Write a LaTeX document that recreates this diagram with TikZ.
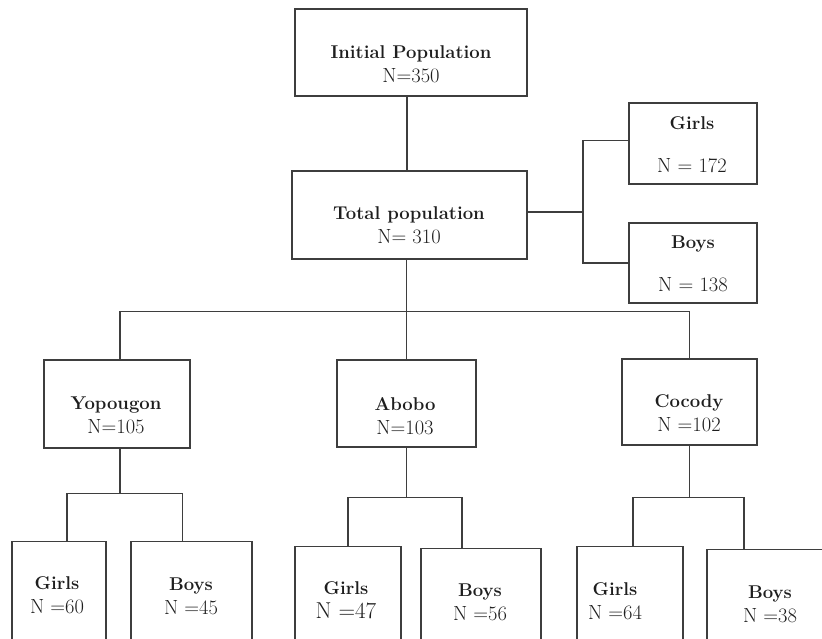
\documentclass[tikz,border=0pt]{standalone}
\usepackage{fontspec}
\usetikzlibrary{positioning,calc}
\definecolor{Ink}{RGB}{62,62,62}
\definecolor{Type}{RGB}{30,30,30}
\newcommand\hd[1]{{\fontsize{18.5}{24}\selectfont\bfseries #1}}

\begin{document}
\begin{tikzpicture}[x=1pt,y=-1pt,
 cell/.style={draw=Ink,line width=1.3pt,inner sep=0pt},
 low/.style={cell,anchor=north,minimum height=130pt},
 boxtext/.style={align=center,text=Type,font=\fontsize{20.5}{24}\selectfont},
 link/.style={draw=Ink,line width=1.3pt}]
\useasboundingbox (0,0) rectangle (822,638);
\clip (0,0) rectangle (822,638);
% boxes
\node[cell,minimum width=232pt,minimum height=87pt] (init) at (411,52.5) {};
\node[cell,minimum width=235pt,minimum height=88pt] (total) at (409.5,215) {};
\node[cell,minimum width=128pt,minimum height=81pt] (girlsR) at (693,143.5) {};
\node[cell,minimum width=128pt,minimum height=80pt] (boysR) at (693,263) {};
\node[cell,minimum width=146pt,minimum height=88pt] (yop) at (117,404) {};
\node[cell,minimum width=139pt,minimum height=87pt] (abo) at (406.5,403.5) {};
\node[cell,minimum width=135pt,minimum height=86pt] (coc) at (689.5,402) {};
\node[low,minimum width=94pt] (gy) at (59,541) {};
\node[low,minimum width=121pt] (by) at (191.5,541) {};
\node[low,minimum width=106pt] (ga) at (348,546) {};
\node[low,minimum width=120pt] (ba) at (481,548) {};
\node[low,minimum width=106pt] (gc) at (630,546) {};
\node[low,minimum width=128pt] (bc) at (771,549) {};
% texts
\node[boxtext] (tInit) at (411,64) {\hd{Initial Population}\\N=350};
\node[boxtext] (tTotal) at (409,225) {\hd{Total population}\\N= 310};
\node[boxtext] (tGirlsR) at (692,144.5) {\hd{Girls}\\[19pt]N = 172};
\node[boxtext] (tBoysR) at (693,263.5) {\hd{Boys}\\[19pt]N = 138};
\node[boxtext] (tYop) at (116,415.5) {\hd{Yopougon}\\N=105};
\node[boxtext] (tAbo) at (405,416) {\hd{Abobo}\\N=103};
\node[boxtext] (tCoc) at (689,413) {\hd{Cocody}\\N =102};
\node[boxtext] (tGy) at (57,595) {\hd{Girls}\\N =60};
\node[boxtext] (tBy) at (191,596.5) {\hd{Boys}\\N =45};
\node[boxtext] (tGa) at (346,600.5) {\hd{Girls}\\{\fontsize{23}{24}\selectfont N =47}};
\node[boxtext] (tBa) at (480,602) {\hd{Boys}\\N =56};
\node[boxtext] (tGc) at (615,601) {\hd{Girls}\\N =64};
\node[boxtext] (tBc) at (770,604) {\hd{Boys}\\N =38};
% connectors
\coordinate (bus) at ($(total.south)+(-3,52)$);
\coordinate (fork) at (583,212);
\coordinate (ysplit) at ($(yop.south)+(3,45)$);
\coordinate (asplit) at ($(abo.south)+(0,50)$);
\coordinate (csplit) at ($(coc.south)+(0,52)$);
\draw[link] ([xshift=-4]init.south) -- ([xshift=-4]init.south |- total.north);
\draw[link] (total.south -| bus) -- (bus);
\draw[link] ([xshift=3]yop.north) |- (bus) -| (coc.north);
\draw[link] (abo.north -| bus) -- (bus);
\draw[link] (total.east |- fork) -- (fork);
\draw[link] ([yshift=3]girlsR.west) -| (fork) |- (boysR.west);
\draw[link] (yop.south -| ysplit) -- (ysplit);
\draw[link] ([xshift=8]gy.north) |- (ysplit) -| ([xshift=-9]by.north);
\draw[link] (abo.south) -- (asplit);
\draw[link] (ga.north) |- (asplit) -| ([xshift=-19]ba.north);
\draw[link] (coc.south) -- (csplit);
\draw[link] ([xshift=3]gc.north) |- (csplit) -| ([xshift=-27]bc.north);
\end{tikzpicture}
\end{document}
